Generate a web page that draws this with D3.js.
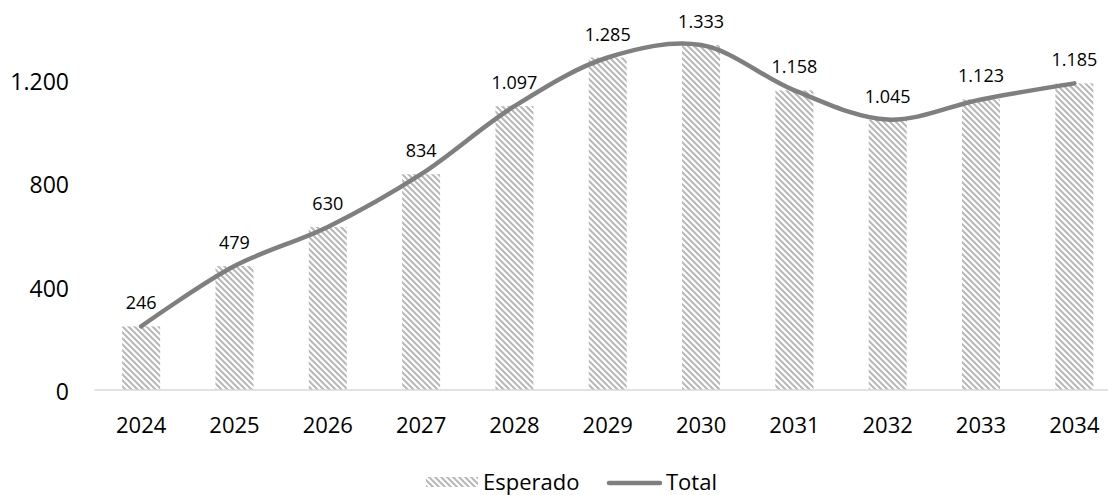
<!DOCTYPE html>
<html><head><meta charset="utf-8">
<script src="https://cdn.jsdelivr.net/npm/d3@7"></script>
<style>body{margin:0;background:#fff}svg{display:block}text{font-family:"Open Sans",sans-serif;fill:#000}</style>
</head><body>
<svg id="c" width="1108" height="495"></svg>
<script>
const years = ["2024","2025","2026","2027","2028","2029","2030","2031","2032","2033","2034"];
const esperado = [246,479,630,834,1097,1285,1333,1158,1045,1123,1185];
const total = [246,479,630,834,1097,1285,1333,1158,1045,1123,1185];
const yTicks = [0,400,800,1200];
const seriesNames = ["Esperado","Total"];

const svg = d3.select("#c");
const fmt = v => d3.format(",")(v).replace(/,/g,".");

const defs = svg.append("defs");
const pat = defs.append("pattern").attr("id","diag").attr("patternUnits","userSpaceOnUse")
  .attr("width",6).attr("height",6);
pat.append("rect").attr("width",6).attr("height",6).attr("fill","#fff");
pat.append("path").attr("d","M-1,-1 L7,7 M-1,5 L1,7 M5,-1 L7,1")
  .attr("stroke","#b8b8b8").attr("stroke-width",2);

const x = d3.scaleBand().domain(years).range([94.5,1121]).paddingInner(0.6).paddingOuter(0.3);
const y = d3.scaleLinear().domain([0,1200]).range([390,79.5]);
const cx = d => x(d) + x.bandwidth()/2;

// bars
svg.append("g").selectAll("rect").data(years).join("rect")
  .attr("x", d => cx(d) - 19).attr("width", 38)
  .attr("y", (d,i) => y(esperado[i])).attr("height", (d,i) => y(0) - y(esperado[i]))
  .attr("fill","url(#diag)");

// axis line
svg.append("line").attr("x1",94.5).attr("x2",1121).attr("y1",390).attr("y2",390)
  .attr("stroke","#d9d9d9").attr("stroke-width",1.5);

// y labels
svg.append("g").selectAll("text").data(yTicks).join("text")
  .attr("x",69).attr("y",d => y(d)+1).attr("text-anchor","end").attr("dominant-baseline","central")
  .style("font-size","23px").text(fmt);

// x labels
svg.append("g").selectAll("text").data(years).join("text")
  .attr("x",d => cx(d)).attr("y",424).attr("text-anchor","middle").attr("dominant-baseline","central")
  .style("font-size","22px").text(d => d);

// line
const line = d3.line().x((d,i) => cx(years[i])).y(d => y(d)).curve(d3.curveCatmullRom.alpha(0.5));
svg.append("path").datum(total).attr("d",line).attr("fill","none")
  .attr("stroke","#7f7f7f").attr("stroke-width",4.5).attr("stroke-linecap","round");

// data labels
svg.append("g").selectAll("text").data(total).join("text")
  .attr("x",(d,i) => cx(years[i])).attr("y",d => y(d)-24)
  .attr("text-anchor","middle").attr("dominant-baseline","central")
  .style("font-size","18px").text(fmt);

// legend
const lg = svg.append("g");
lg.append("rect").attr("x",426).attr("y",477).attr("width",52).attr("height",10).attr("fill","url(#diag)");
lg.append("text").attr("x",483).attr("y",481).attr("dominant-baseline","central").style("font-size","22px").text(seriesNames[0]);
lg.append("line").attr("x1",609).attr("x2",660).attr("y1",483).attr("y2",483)
  .attr("stroke","#7f7f7f").attr("stroke-width",4.5).attr("stroke-linecap","round");
lg.append("text").attr("x",666).attr("y",481).attr("dominant-baseline","central").style("font-size","22px").text(seriesNames[1]);
</script>
</body></html>
